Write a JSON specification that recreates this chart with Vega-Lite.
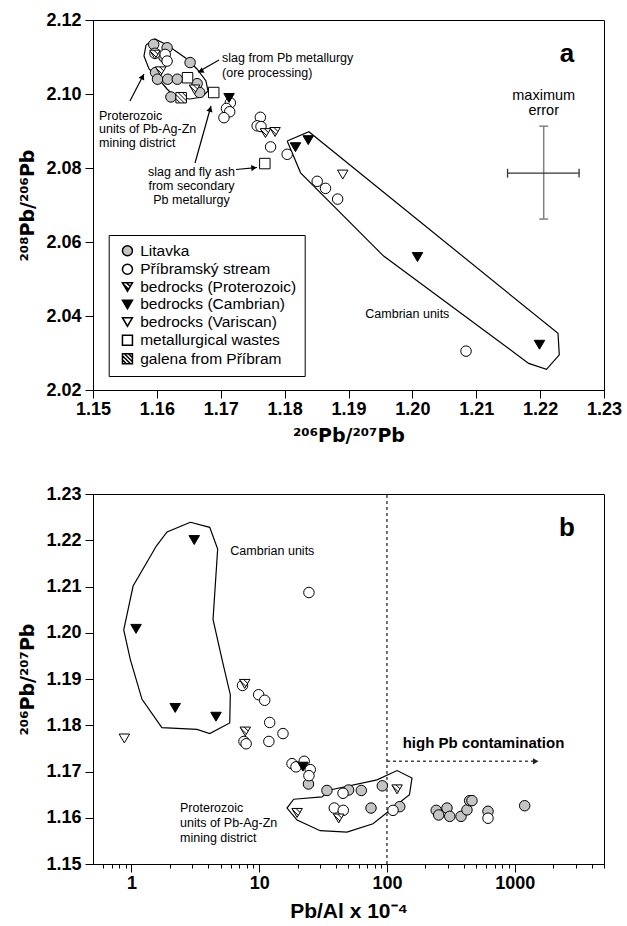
{
  "$schema": "https://vega.github.io/schema/vega-lite/v6.json",
  "background": "white",
  "padding": {"left": 18, "top": 10, "right": 20, "bottom": 5},
  "spacing": 38,
  "config": {
    "view": {"stroke": "black", "strokeWidth": 1},
    "axis": {"labelFont": "Liberation Sans", "labelFontWeight": "bold", "labelFontSize": 18, "labelColor": "black",
             "titleFont": "Liberation Sans", "titleFontWeight": "bold", "titleFontSize": 21, "titleColor": "black",
             "domainColor": "black", "tickColor": "black", "grid": false, "tickSize": 8, "labelPadding": 4, "titlePadding": 8},
    "text": {"font": "Liberation Sans", "color": "black"}
  },
  "resolve": {"scale": {"shape": "independent", "fill": "independent"}, "legend": {"shape": "independent", "fill": "independent"}},
  "vconcat": [
    {
      "width": 511, "height": 370,
      "encoding": {
        "x": {"field": "x", "type": "quantitative", "scale": {"domain": [1.15, 1.23], "nice": false, "zero": false},
              "axis": {"values": [1.15, 1.16, 1.17, 1.18, 1.19, 1.2, 1.21, 1.22, 1.23], "format": ".2f", "labelFlush": false, "title": "²⁰⁶Pb/²⁰⁷Pb", "titleFont": "DejaVu Sans", "titleFontSize": 19, "labelPadding": 2}},
        "y": {"field": "y", "type": "quantitative", "scale": {"domain": [2.02, 2.12], "nice": false, "zero": false},
              "axis": {"values": [2.02, 2.04, 2.06, 2.08, 2.1, 2.12], "format": ".2f", "title": "²⁰⁸Pb/²⁰⁶Pb", "titleFont": "DejaVu Sans", "titleFontSize": 19}}
      },
      "layer": [
        {
          "data": {"values": [
            {"poly": "prot", "i": 0, "x": 1.1583, "y": 2.11324},
            {"poly": "prot", "i": 1, "x": 1.15971, "y": 2.11486},
            {"poly": "prot", "i": 2, "x": 1.16159, "y": 2.11324},
            {"poly": "prot", "i": 3, "x": 1.16472, "y": 2.10946},
            {"poly": "prot", "i": 4, "x": 1.16628, "y": 2.10676},
            {"poly": "prot", "i": 5, "x": 1.16769, "y": 2.10351},
            {"poly": "prot", "i": 6, "x": 1.168, "y": 2.10081},
            {"poly": "prot", "i": 7, "x": 1.16706, "y": 2.09919},
            {"poly": "prot", "i": 8, "x": 1.16519, "y": 2.09865},
            {"poly": "prot", "i": 9, "x": 1.16284, "y": 2.09919},
            {"poly": "prot", "i": 10, "x": 1.16159, "y": 2.10135},
            {"poly": "prot", "i": 11, "x": 1.16002, "y": 2.10459},
            {"poly": "prot", "i": 12, "x": 1.15877, "y": 2.10676},
            {"poly": "prot", "i": 13, "x": 1.15798, "y": 2.11027},
            {"poly": "prot", "i": 14, "x": 1.1583, "y": 2.11324},
            {"poly": "camb", "i": 0, "x": 1.1804, "y": 2.0873},
            {"poly": "camb", "i": 1, "x": 1.1838, "y": 2.0898},
            {"poly": "camb", "i": 2, "x": 1.2228, "y": 2.0353},
            {"poly": "camb", "i": 3, "x": 1.223, "y": 2.0295},
            {"poly": "camb", "i": 4, "x": 1.221, "y": 2.0256},
            {"poly": "camb", "i": 5, "x": 1.2182, "y": 2.0272},
            {"poly": "camb", "i": 6, "x": 1.1955, "y": 2.0562},
            {"poly": "camb", "i": 7, "x": 1.1825, "y": 2.0787},
            {"poly": "camb", "i": 8, "x": 1.1804, "y": 2.0873}
          ]},
          "mark": {"type": "line", "stroke": "black", "strokeWidth": 1.2},
          "encoding": {"detail": {"field": "poly"}, "order": {"field": "i", "type": "quantitative"}}
        },
        {
          "data": {"values": [{"x": 1.22056, "y": 2.0913, "y2": 2.0662}]},
          "mark": {"type": "rule", "stroke": "#808080", "strokeWidth": 1.5},
          "encoding": {"y2": {"field": "y2"}}
        },
        {
          "data": {"values": [{"x": 1.21986, "x2": 1.22126, "y": 2.0913}, {"x": 1.21986, "x2": 1.22126, "y": 2.0662}]},
          "mark": {"type": "rule", "stroke": "#808080", "strokeWidth": 1.5},
          "encoding": {"x2": {"field": "x2"}}
        },
        {
          "data": {"values": [{"x": 1.2149, "x2": 1.2261, "y": 2.0786}]},
          "mark": {"type": "rule", "stroke": "#333333", "strokeWidth": 1.3},
          "encoding": {"x2": {"field": "x2"}}
        },
        {
          "data": {"values": [{"x": 1.2149, "y": 2.0774, "y2": 2.0798}, {"x": 1.2261, "y": 2.0774, "y2": 2.0798}]},
          "mark": {"type": "rule", "stroke": "#333333", "strokeWidth": 1.3},
          "encoding": {"y2": {"field": "y2"}}
        },
        {
          "data": {"values": [
            {"x": 1.15579, "y": 2.09811, "x2": 1.15798, "y2": 2.10541},
            {"x": 1.16973, "y": 2.10919, "x2": 1.16644, "y2": 2.10595},
            {"x": 1.17239, "y": 2.07959, "x2": 1.17567, "y2": 2.08014},
            {"x": 1.16597, "y": 2.08135, "x2": 1.16847, "y2": 2.09676}
          ]},
          "mark": {"type": "rule", "stroke": "black", "strokeWidth": 1.2},
          "encoding": {"x2": {"field": "x2"}, "y2": {"field": "y2"}}
        },
        {
          "data": {"values": [{"x": 1.15777, "y": 2.10468}]},
          "mark": {"type": "point", "shape": "triangle-up", "filled": true, "color": "black", "size": 40, "angle": 27, "opacity": 1}
        },
        {
          "data": {"values": [{"x": 1.16686, "y": 2.10616}]},
          "mark": {"type": "point", "shape": "triangle-up", "filled": true, "color": "black", "size": 40, "angle": 243, "opacity": 1}
        },
        {
          "data": {"values": [{"x": 1.17521, "y": 2.08005}]},
          "mark": {"type": "point", "shape": "triangle-up", "filled": true, "color": "black", "size": 40, "angle": 85, "opacity": 1}
        },
        {
          "data": {"values": [{"x": 1.16835, "y": 2.09597}]},
          "mark": {"type": "point", "shape": "triangle-up", "filled": true, "color": "black", "size": 40, "angle": 16, "opacity": 1}
        },
        {
          "data": {"values": [
            {"type": "Litavka", "x": 1.1595, "y": 2.1134},
            {"type": "Litavka", "x": 1.1616, "y": 2.1125},
            {"type": "Litavka", "x": 1.1611, "y": 2.11},
            {"type": "Litavka", "x": 1.1652, "y": 2.1085},
            {"type": "Litavka", "x": 1.1598, "y": 2.1058},
            {"type": "Litavka", "x": 1.1601, "y": 2.104},
            {"type": "Litavka", "x": 1.1617, "y": 2.104},
            {"type": "Litavka", "x": 1.1632, "y": 2.104},
            {"type": "Litavka", "x": 1.1663, "y": 2.1028},
            {"type": "Litavka", "x": 1.1622, "y": 2.0992},
            {"type": "Litavka", "x": 1.1667, "y": 2.1004},
            {"type": "Příbramský stream", "x": 1.1597, "y": 2.111},
            {"type": "Příbramský stream", "x": 1.1613, "y": 2.1107},
            {"type": "Příbramský stream", "x": 1.1616, "y": 2.1089},
            {"type": "Příbramský stream", "x": 1.1715, "y": 2.0976},
            {"type": "Příbramský stream", "x": 1.1709, "y": 2.0961},
            {"type": "Příbramský stream", "x": 1.1714, "y": 2.0952},
            {"type": "Příbramský stream", "x": 1.1705, "y": 2.0936},
            {"type": "Příbramský stream", "x": 1.1762, "y": 2.0937},
            {"type": "Příbramský stream", "x": 1.1757, "y": 2.0914},
            {"type": "Příbramský stream", "x": 1.1763, "y": 2.0912},
            {"type": "Příbramský stream", "x": 1.1778, "y": 2.0857},
            {"type": "Příbramský stream", "x": 1.1804, "y": 2.0837},
            {"type": "Příbramský stream", "x": 1.1851, "y": 2.0764},
            {"type": "Příbramský stream", "x": 1.1864, "y": 2.0745},
            {"type": "Příbramský stream", "x": 1.1883, "y": 2.0716},
            {"type": "Příbramský stream", "x": 1.2084, "y": 2.0305},
            {"type": "bedrocks (Proterozoic)", "x": 1.1597, "y": 2.1107},
            {"type": "bedrocks (Proterozoic)", "x": 1.1606, "y": 2.1062},
            {"type": "bedrocks (Proterozoic)", "x": 1.1659, "y": 2.1013},
            {"type": "bedrocks (Proterozoic)", "x": 1.177, "y": 2.0895},
            {"type": "bedrocks (Proterozoic)", "x": 1.1785, "y": 2.0898},
            {"type": "bedrocks (Cambrian)", "x": 1.1713, "y": 2.099},
            {"type": "bedrocks (Cambrian)", "x": 1.1817, "y": 2.0857},
            {"type": "bedrocks (Cambrian)", "x": 1.1837, "y": 2.0876},
            {"type": "bedrocks (Cambrian)", "x": 1.2008, "y": 2.056},
            {"type": "bedrocks (Cambrian)", "x": 1.2199, "y": 2.0323},
            {"type": "bedrocks (Variscan)", "x": 1.1891, "y": 2.0783},
            {"type": "metallurgical wastes", "x": 1.1648, "y": 2.1044},
            {"type": "metallurgical wastes", "x": 1.1689, "y": 2.1004},
            {"type": "metallurgical wastes", "x": 1.1769, "y": 2.0812},
            {"type": "galena from Příbram", "x": 1.1638, "y": 2.099}
          ]},
          "mark": {"type": "point", "filled": true, "stroke": "black", "strokeWidth": 1, "size": 110, "opacity": 1},
          "encoding": {
            "shape": {"field": "type", "type": "nominal",
              "scale": {"domain": ["Litavka", "Příbramský stream", "bedrocks (Proterozoic)", "bedrocks (Cambrian)", "bedrocks (Variscan)", "metallurgical wastes", "galena from Příbram"],
                        "range": ["circle", "circle", "M-1,-0.8L1,-0.8L0,0.9Z M-0.86,-0.56L0.22,0.52 M-0.2,-0.8L0.56,-0.04", "M-1,-0.8L1,-0.8L0,0.9Z", "M-1,-0.8L1,-0.8L0,0.9Z", "square", "M-1,-1H1V1H-1Z M-1,0.2L-0.2,1 M-1,-0.6L0.6,1 M-0.6,-1L1,0.6 M0.2,-1L1,-0.2"]},
              "legend": {"orient": "none", "legendX": 15.7, "legendY": 215, "title": null, "strokeColor": "black", "fillColor": "white", "padding": 8,
                         "labelFont": "Liberation Sans", "labelFontSize": 15.5, "labelColor": "black", "labelLimit": 400, "symbolSize": 100, "rowPadding": 0.5, "labelOffset": 5, "symbolOffset": 3,
                         "encode": {"symbols": {"update": {"stroke": {"value": "black"}, "strokeWidth": {"value": 0.8}}}}}},
            "fill": {"field": "type", "type": "nominal",
              "scale": {"domain": ["Litavka", "Příbramský stream", "bedrocks (Proterozoic)", "bedrocks (Cambrian)", "bedrocks (Variscan)", "metallurgical wastes", "galena from Příbram"],
                        "range": ["#c4c4c4", "white", "white", "black", "white", "white", "white"]},
              "legend": {"orient": "none", "legendX": 15.7, "legendY": 215, "title": null, "strokeColor": "black", "fillColor": "white", "padding": 8,
                         "labelFont": "Liberation Sans", "labelFontSize": 15.5, "labelColor": "black", "labelLimit": 400, "symbolSize": 100, "rowPadding": 0.5, "labelOffset": 5, "symbolOffset": 3,
                         "encode": {"symbols": {"update": {"stroke": {"value": "black"}, "strokeWidth": {"value": 0.8}}}}}}
          }
        },
        {
          "data": {"values": [
            {"t": "slag from Pb metallurgy", "x": 1.1702, "y": 2.1098},
            {"t": "(ore processing)", "x": 1.1702, "y": 2.1058},
            {"t": "Proterozoic", "x": 1.15094, "y": 2.09405},
            {"t": "units of Pb-Ag-Zn", "x": 1.15094, "y": 2.09041},
            {"t": "mining district", "x": 1.15094, "y": 2.08676},
            {"t": "Cambrian units", "x": 1.19263, "y": 2.0405}
          ]},
          "mark": {"type": "text", "align": "left", "baseline": "middle", "fontSize": 12.5},
          "encoding": {"text": {"field": "t"}}
        },
        {
          "data": {"values": [
            {"t": "slag and fly ash", "x": 1.16542, "y": 2.07892},
            {"t": "from secondary", "x": 1.16542, "y": 2.07514},
            {"t": "Pb metallurgy", "x": 1.16542, "y": 2.07135}
          ]},
          "mark": {"type": "text", "align": "center", "baseline": "middle", "fontSize": 12.5},
          "encoding": {"text": {"field": "t"}}
        },
        {
          "data": {"values": [
            {"t": "maximum", "x": 1.22056, "y": 2.09946},
            {"t": "error", "x": 1.22056, "y": 2.09541}
          ]},
          "mark": {"type": "text", "align": "center", "baseline": "middle", "fontSize": 14.5},
          "encoding": {"text": {"field": "t"}}
        },
        {
          "data": {"values": [{"t": "a", "x": 1.2242, "y": 2.1108}]},
          "mark": {"type": "text", "align": "center", "baseline": "middle", "fontSize": 26, "fontWeight": "bold"},
          "encoding": {"text": {"field": "t"}}
        }
      ]
    },
    {
      "width": 511, "height": 370,
      "encoding": {
        "x": {"field": "x", "type": "quantitative", "scale": {"type": "log", "domain": [0.5, 5000], "nice": false},
              "axis": {"values": [0.6, 0.7, 0.8, 0.9, 1, 2, 3, 4, 5, 6, 7, 8, 9, 10, 20, 30, 40, 50, 60, 70, 80, 90, 100, 200, 300, 400, 500, 600, 700, 800, 900, 1000, 2000, 3000, 4000, 5000],
                       "labelExpr": "(datum.value == 1 || datum.value == 10 || datum.value == 100 || datum.value == 1000) ? format(datum.value, 'd') : ''",
                       "labelOverlap": false, "labelFlush": false, "labelPadding": 2,
                       "tickSize": {"condition": {"test": "datum.value == 1 || datum.value == 10 || datum.value == 100 || datum.value == 1000", "value": 8}, "value": 4},
                       "title": "Pb/Al x 10⁻⁴"}},
        "y": {"field": "y", "type": "quantitative", "scale": {"domain": [1.15, 1.23], "nice": false, "zero": false},
              "axis": {"values": [1.15, 1.16, 1.17, 1.18, 1.19, 1.2, 1.21, 1.22, 1.23], "format": ".2f", "title": "²⁰⁶Pb/²⁰⁷Pb", "titleFont": "DejaVu Sans", "titleFontSize": 19}}
      },
      "layer": [
        {
          "data": {"values": [
            {"poly": "camb", "i": 0, "x": 2.89, "y": 1.2239},
            {"poly": "camb", "i": 1, "x": 4.1, "y": 1.2228},
            {"poly": "camb", "i": 2, "x": 4.73, "y": 1.2181},
            {"poly": "camb", "i": 3, "x": 4.35, "y": 1.2029},
            {"poly": "camb", "i": 4, "x": 5.12, "y": 1.1942},
            {"poly": "camb", "i": 5, "x": 5.94, "y": 1.1866},
            {"poly": "camb", "i": 6, "x": 5.88, "y": 1.1805},
            {"poly": "camb", "i": 7, "x": 4.1, "y": 1.1782},
            {"poly": "camb", "i": 8, "x": 3.26, "y": 1.1791},
            {"poly": "camb", "i": 9, "x": 1.73, "y": 1.1795},
            {"poly": "camb", "i": 10, "x": 1.21, "y": 1.1856},
            {"poly": "camb", "i": 11, "x": 0.98, "y": 1.1942},
            {"poly": "camb", "i": 12, "x": 0.87, "y": 1.2006},
            {"poly": "camb", "i": 13, "x": 1.03, "y": 1.2101},
            {"poly": "camb", "i": 14, "x": 1.57, "y": 1.2188},
            {"poly": "camb", "i": 15, "x": 1.9, "y": 1.2218},
            {"poly": "camb", "i": 16, "x": 2.89, "y": 1.2239},
            {"poly": "prot", "i": 0, "x": 18.6, "y": 1.164},
            {"poly": "prot", "i": 1, "x": 16.5, "y": 1.1621},
            {"poly": "prot", "i": 2, "x": 19.8, "y": 1.1595},
            {"poly": "prot", "i": 3, "x": 30, "y": 1.1572},
            {"poly": "prot", "i": 4, "x": 48.6, "y": 1.1569},
            {"poly": "prot", "i": 5, "x": 77.8, "y": 1.1587},
            {"poly": "prot", "i": 6, "x": 150, "y": 1.165},
            {"poly": "prot", "i": 7, "x": 157, "y": 1.1686},
            {"poly": "prot", "i": 8, "x": 120, "y": 1.1702},
            {"poly": "prot", "i": 9, "x": 83.6, "y": 1.1682},
            {"poly": "prot", "i": 10, "x": 35.8, "y": 1.166},
            {"poly": "prot", "i": 11, "x": 31, "y": 1.1645},
            {"poly": "prot", "i": 12, "x": 18.6, "y": 1.164}
          ]},
          "mark": {"type": "line", "stroke": "black", "strokeWidth": 1.2},
          "encoding": {"detail": {"field": "poly"}, "order": {"field": "i", "type": "quantitative"}}
        },
        {
          "data": {"values": [{"x": 100, "y": 1.15, "y2": 1.23}]},
          "mark": {"type": "rule", "stroke": "#444444", "strokeWidth": 1.5, "strokeDash": [3, 3]},
          "encoding": {"y2": {"field": "y2"}}
        },
        {
          "data": {"values": [{"x": 100, "x2": 1500, "y": 1.1722}]},
          "mark": {"type": "rule", "stroke": "#444444", "strokeWidth": 1.5, "strokeDash": [3, 3]},
          "encoding": {"x2": {"field": "x2"}}
        },
        {
          "data": {"values": [{"x": 1460, "y": 1.1722}]},
          "mark": {"type": "point", "shape": "triangle-right", "filled": true, "color": "#222222", "size": 40, "opacity": 1}
        },
        {
          "data": {"values": [
            {"type": "Litavka", "x": 24.3, "y": 1.1673},
            {"type": "Litavka", "x": 33.9, "y": 1.1659},
            {"type": "Litavka", "x": 50.1, "y": 1.166},
            {"type": "Litavka", "x": 63, "y": 1.1659},
            {"type": "Litavka", "x": 92, "y": 1.1669},
            {"type": "Litavka", "x": 75, "y": 1.1621},
            {"type": "Litavka", "x": 126, "y": 1.1624},
            {"type": "Litavka", "x": 243, "y": 1.1616},
            {"type": "Litavka", "x": 254, "y": 1.1606},
            {"type": "Litavka", "x": 295, "y": 1.1621},
            {"type": "Litavka", "x": 310, "y": 1.1603},
            {"type": "Litavka", "x": 380, "y": 1.1603},
            {"type": "Litavka", "x": 423, "y": 1.1617},
            {"type": "Litavka", "x": 444, "y": 1.1637},
            {"type": "Litavka", "x": 463, "y": 1.1637},
            {"type": "Litavka", "x": 618, "y": 1.1614},
            {"type": "Litavka", "x": 1197, "y": 1.1626},
            {"type": "Příbramský stream", "x": 24.5, "y": 1.2087},
            {"type": "Příbramský stream", "x": 7.4, "y": 1.1886},
            {"type": "Příbramský stream", "x": 9.9, "y": 1.1866},
            {"type": "Příbramský stream", "x": 11.04, "y": 1.1854},
            {"type": "Příbramský stream", "x": 12.08, "y": 1.1806},
            {"type": "Příbramský stream", "x": 15.35, "y": 1.1782},
            {"type": "Příbramský stream", "x": 7.6, "y": 1.1765},
            {"type": "Příbramský stream", "x": 7.9, "y": 1.176},
            {"type": "Příbramský stream", "x": 11.9, "y": 1.1765},
            {"type": "Příbramský stream", "x": 18.06, "y": 1.1717},
            {"type": "Příbramský stream", "x": 19.4, "y": 1.171},
            {"type": "Příbramský stream", "x": 22.5, "y": 1.1722},
            {"type": "Příbramský stream", "x": 25.1, "y": 1.1704},
            {"type": "Příbramský stream", "x": 24.5, "y": 1.1691},
            {"type": "Příbramský stream", "x": 38.7, "y": 1.1621},
            {"type": "Příbramský stream", "x": 45.5, "y": 1.1616},
            {"type": "Příbramský stream", "x": 45.3, "y": 1.1653},
            {"type": "Příbramský stream", "x": 111.5, "y": 1.1616},
            {"type": "Příbramský stream", "x": 618, "y": 1.1599},
            {"type": "bedrocks (Proterozoic)", "x": 7.7, "y": 1.189},
            {"type": "bedrocks (Proterozoic)", "x": 7.78, "y": 1.1787},
            {"type": "bedrocks (Proterozoic)", "x": 19.8, "y": 1.1611},
            {"type": "bedrocks (Proterozoic)", "x": 41.9, "y": 1.1599},
            {"type": "bedrocks (Proterozoic)", "x": 120, "y": 1.1662},
            {"type": "bedrocks (Cambrian)", "x": 3.1, "y": 1.2201},
            {"type": "bedrocks (Cambrian)", "x": 1.086, "y": 1.2009},
            {"type": "bedrocks (Cambrian)", "x": 2.2, "y": 1.1838},
            {"type": "bedrocks (Cambrian)", "x": 4.59, "y": 1.1819},
            {"type": "bedrocks (Cambrian)", "x": 22, "y": 1.1711},
            {"type": "bedrocks (Variscan)", "x": 0.88, "y": 1.1772}
          ]},
          "mark": {"type": "point", "filled": true, "stroke": "black", "strokeWidth": 1, "size": 110, "opacity": 1},
          "encoding": {
            "shape": {"field": "type", "type": "nominal",
              "scale": {"domain": ["Litavka", "Příbramský stream", "bedrocks (Proterozoic)", "bedrocks (Cambrian)", "bedrocks (Variscan)", "metallurgical wastes", "galena from Příbram"],
                        "range": ["circle", "circle", "M-1,-0.8L1,-0.8L0,0.9Z M-0.86,-0.56L0.22,0.52 M-0.2,-0.8L0.56,-0.04", "M-1,-0.8L1,-0.8L0,0.9Z", "M-1,-0.8L1,-0.8L0,0.9Z", "square", "M-1,-1H1V1H-1Z M-1,0.2L-0.2,1 M-1,-0.6L0.6,1 M-0.6,-1L1,0.6 M0.2,-1L1,-0.2"]},
              "legend": null},
            "fill": {"field": "type", "type": "nominal",
              "scale": {"domain": ["Litavka", "Příbramský stream", "bedrocks (Proterozoic)", "bedrocks (Cambrian)", "bedrocks (Variscan)", "metallurgical wastes", "galena from Příbram"],
                        "range": ["#c4c4c4", "white", "white", "black", "white", "white", "white"]},
              "legend": null}
          }
        },
        {
          "data": {"values": [
            {"t": "Cambrian units", "x": 5.94, "y": 1.2177},
            {"t": "Proterozoic", "x": 2.4, "y": 1.1621},
            {"t": "units of Pb-Ag-Zn", "x": 2.4, "y": 1.1589},
            {"t": "mining district", "x": 2.4, "y": 1.1556}
          ]},
          "mark": {"type": "text", "align": "left", "baseline": "middle", "fontSize": 12.5},
          "encoding": {"text": {"field": "t"}}
        },
        {
          "data": {"values": [{"t": "high Pb contamination", "x": 132.8, "y": 1.1762}]},
          "mark": {"type": "text", "align": "left", "baseline": "middle", "fontSize": 15, "fontWeight": "bold"},
          "encoding": {"text": {"field": "t"}}
        },
        {
          "data": {"values": [{"t": "b", "x": 2566, "y": 1.2226}]},
          "mark": {"type": "text", "align": "center", "baseline": "middle", "fontSize": 26, "fontWeight": "bold"},
          "encoding": {"text": {"field": "t"}}
        }
      ]
    }
  ]
}
